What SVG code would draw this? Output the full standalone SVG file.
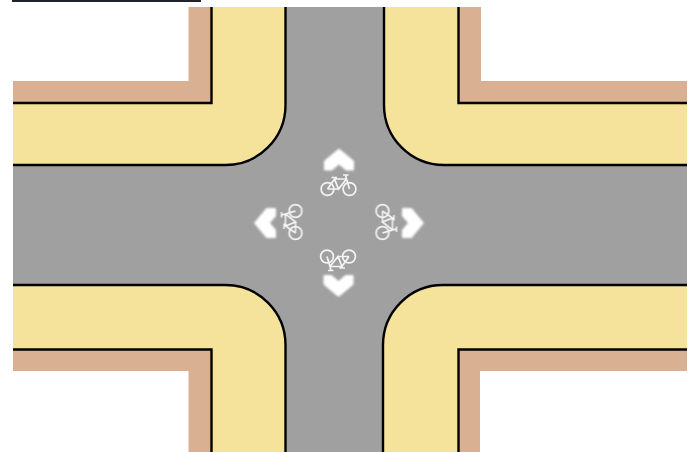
<svg xmlns="http://www.w3.org/2000/svg" width="695" height="452" viewBox="0 0 695 452">
<style>
.y{fill:#f5e39b}.b{fill:#dab093}.w{fill:#fff}
.l{fill:none;stroke:#000;stroke-width:2.4}
.chev{fill:#fff;stroke:#fff;stroke-width:1;stroke-linejoin:round;filter:url(#soft)}
.bike{fill:none;stroke:#f4f4f4;stroke-width:1.7;filter:url(#softer)}
</style>
<defs>
<filter id="soft" x="-20%" y="-20%" width="140%" height="140%"><feGaussianBlur stdDeviation="0.8"/></filter>
<filter id="softer" x="-20%" y="-20%" width="140%" height="140%"><feGaussianBlur stdDeviation="0.3"/></filter>
<g id="chevron"><path d="M0,-10.500 L14.500,1.500 V10.500 H7 L0,4.500 L-7,10.500 H-14.500 V1.500 Z"/></g>
<g id="bicycle">
<circle cx="-11" cy="4" r="6.400"/><circle cx="11" cy="4" r="6.400"/>
<path d="M-11,4 L-4,-6 H8 L11,4 M-4,-6 L0,4 L8,-6 M-11,4 H0 M-7,-7.500 H-1.500 M7,-10 L8,-6 M4.500,-10 H10"/>
</g>
</defs>
<g id="road"><rect x="13" y="7" width="674" height="445" fill="#a0a0a0"/></g>
<g id="corner-top-left">
<path class="y" d="M13,7H285.500V105A60,60 0 0 1 225.500,165H13Z"/>
<rect class="w" x="13" y="7" width="176" height="74"/>
<path class="b" d="M13,81H188.500V7H211.500V103H13Z"/>
<path class="l" d="M285.500,7V105A60,60 0 0 1 225.500,165H13M13,103H211.500V7"/>
</g>
<g id="corner-top-right">
<path class="y" d="M687,7H384V105A60,60 0 0 0 444,165H687Z"/>
<rect class="w" x="481" y="7" width="206" height="74"/>
<path class="b" d="M687,81H481V7H458.500V103H687Z"/>
<path class="l" d="M384,7V105A60,60 0 0 0 444,165H687M687,103H458.500V7"/>
</g>
<g id="corner-bottom-left">
<path class="y" d="M13,452H285.500V345A60,60 0 0 0 225.500,285H13Z"/>
<rect class="w" x="13" y="371" width="176" height="81"/>
<path class="b" d="M13,371H188.500V452H211.500V349.500H13Z"/>
<path class="l" d="M285.500,452V345A60,60 0 0 0 225.500,285H13M13,349.500H211.500V452"/>
</g>
<g id="corner-bottom-right">
<path class="y" d="M687,452H383V345A60,60 0 0 1 443,285H687Z"/>
<rect class="w" x="480" y="371" width="207" height="81"/>
<path class="b" d="M687,371H480V452H458.500V349.500H687Z"/>
<path class="l" d="M383,452V345A60,60 0 0 1 443,285H687M687,349.500H458.500V452"/>
</g>
<g id="marking-north">
<use href="#chevron" class="chev" transform="translate(339,159.500)"/>
<use href="#bicycle" class="bike" transform="translate(338.500,185)"/>
</g>
<g id="marking-east">
<use href="#chevron" class="chev" transform="translate(413,223) rotate(90)"/>
<use href="#bicycle" class="bike" transform="translate(386.500,222) rotate(90)"/>
</g>
<g id="marking-south">
<use href="#chevron" class="chev" transform="translate(338.500,286) rotate(180)"/>
<use href="#bicycle" class="bike" transform="translate(338,260.500) rotate(180)"/>
</g>
<g id="marking-west">
<use href="#chevron" class="chev" transform="translate(265,223) rotate(-90)"/>
<use href="#bicycle" class="bike" transform="translate(291.500,222) rotate(-90)"/>
</g>
<rect id="top-rule" x="12" y="0" width="189" height="2" fill="#20222c"/>
</svg>
